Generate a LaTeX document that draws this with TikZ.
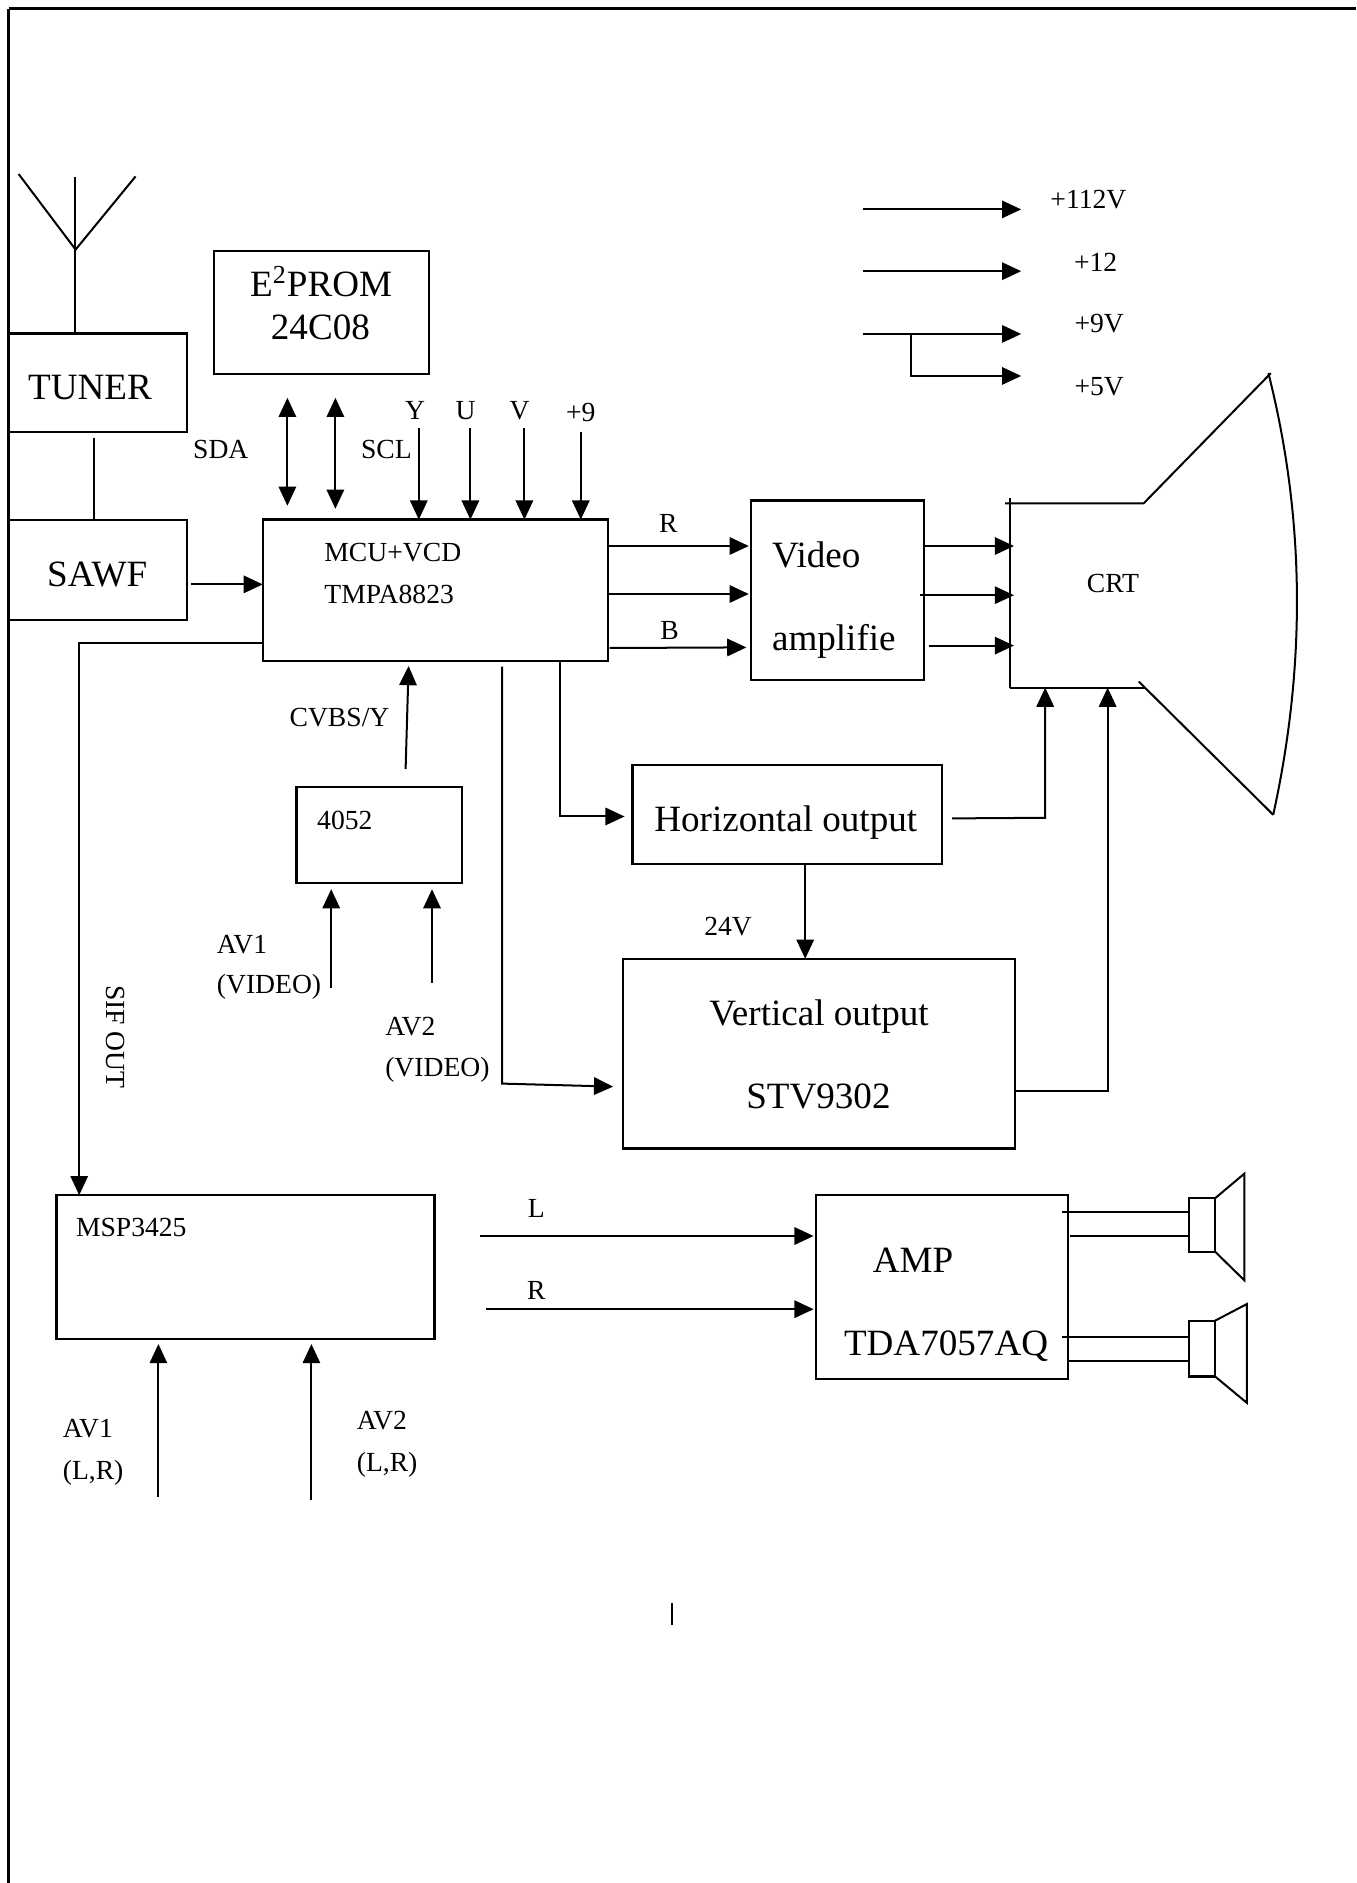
\documentclass[tikz,border=0pt]{standalone}
\usepackage{fontspec}
\setmainfont{Liberation Serif}
\usetikzlibrary{arrows.meta}
\newcommand{\mybox}[5]{\node[box, minimum width={(#4-#2)*0.02cm}, minimum height={(#5-#3)*0.02cm}] (#1) at ({(#2+#4)/2},{(#3+#5)/2}) {};}
\tikzset{
  box/.style={draw, line width=1.05pt, inner sep=0pt, outer sep=0pt},
  wire/.style={line width=0.95pt},
  arr/.style={wire, -{Triangle[length=0.32cm, width=0.29cm]}},
  darr/.style={wire, {Triangle[length=0.32cm, width=0.29cm]}-{Triangle[length=0.32cm, width=0.29cm]}},
  big/.style={font=\fontsize{17.6}{20}\selectfont, inner sep=0pt, anchor=base},
  bigl/.style={big, anchor=base west},
  small/.style={font=\fontsize{13.1}{15}\selectfont, inner sep=0pt, anchor=base},
  smalll/.style={small, anchor=base west}
}
\begin{document}
\begin{tikzpicture}[x=0.02cm, y=-0.02cm]
\useasboundingbox (0,0) rectangle (1130,1569.17);
% frame
\draw[line width=1.4pt] (7.2,7.2) -- (1130,7.2);
\draw[line width=1.1pt] (7.2,7.2) -- (7.2,1569.17);

% boxes
\mybox{tuner}{7.5}{278}{156}{360}
\mybox{sawf}{7.5}{433.5}{156}{516.5}
\mybox{eprom}{178.5}{209}{357.5}{311.5}
\mybox{mcu}{219}{433}{506.5}{551}
\mybox{bsw}{247}{656}{385}{736}
\mybox{video}{626}{417}{770}{566.5}
\mybox{hout}{527}{637.5}{785}{720}
\mybox{vout}{519}{799}{846}{957}
\mybox{msp}{47}{996}{362}{1116}
\mybox{amp}{680}{996}{890}{1149}
\mybox{spka}{991}{998.6}{1012.5}{1043}
\mybox{spkb}{991}{1100.6}{1012.5}{1147}

% texts
\node[big] (ttuner) at (75,333.3) {TUNER};
\node[big] (tsawf) at (81,489) {SAWF};
\node[big] (tep1) at (267.6,247) {E\textsuperscript{2}PROM};
\node[big] (tep2) at (267,283) {24C08};
\node[small] (tsda) at (184,382) {SDA};
\node[small] (tscl) at (322,382) {SCL};
\node[small] (ty) at (346,350) {Y};
\node[small] (tu) at (388,350) {U};
\node[small] (tv) at (433,350) {V};
\node[small] (tp9) at (484,351) {+9};
\node[smalll] (tmcu1) at (270,468) {MCU+VCD};
\node[smalll] (tmcu2) at (270,502.6) {TMPA8823};
\node[small] (tr) at (557,444) {R};
\node[small] (tb) at (558,533) {B};
\node[bigl] (tvid1) at (643,472.8) {Video};
\node[bigl] (tvid2) at (643,541.7) {amplifie};
\node[small] (tcrt) at (927.5,494) {CRT};
\node[small] (tp112) at (907,173.4) {+112V};
\node[small] (tp12) at (913,226) {+12};
\node[small] (tp9v) at (916,277.5) {+9V};
\node[small] (tp5v) at (916,329.6) {+5V};
\node[smalll] (tcvbs) at (241,605.6) {CVBS/Y};
\node[smalll] (t4052) at (264,691) {4052};
\node[smalll] (tav1) at (180.4,794.4) {AV1};
\node[smalll] (tav1v) at (180.4,827.8) {(VIDEO)};
\node[smalll] (tav2) at (320.7,862.5) {AV2};
\node[smalll] (tav2v) at (320.7,897) {(VIDEO)};
\node[small, anchor=center, rotate=-90] (tsif) at (96.5,864) {SIF OUT};
\node[big] (thout) at (654.8,693) {Horizontal output};
\node[small] (t24v) at (606.7,779.7) {24V};
\node[big] (tvout1) at (682.5,854.6) {Vertical output};
\node[big] (tvout2) at (682,923.8) {STV9302};
\node[smalll] (tmsp) at (63,1030.3) {MSP3425};
\node[small] (tl) at (447,1014.8) {L};
\node[small] (tr2) at (447,1083) {R};
\node[bigl] (tamp1) at (727,1060.3) {AMP};
\node[bigl] (tamp2) at (703,1129.7) {TDA7057AQ};
\node[smalll] (tav1a) at (52,1197.8) {AV1};
\node[smalll] (tav1b) at (52,1232.5) {(L,R)};
\node[smalll] (tav2a) at (297,1191) {AV2};
\node[smalll] (tav2b) at (297,1226) {(L,R)};

% helper coordinates
\coordinate (antl) at (15.5,145);
\coordinate (anta) at (63,208);
\coordinate (antr) at (113,147);
\coordinate (antt) at (62.5,147.5);
\coordinate (sifc) at (66,536);
\coordinate (sifm) at (66,996);
\coordinate (sifs) at (219,536);
\coordinate (sawfo) at (159,487);
\coordinate (mcuin) at (219,487);

% antenna
\draw[wire] (antl) -- (anta) -- (antr);
\draw[wire] (antt) -- (antt |- tuner.north);
\draw[wire] (78,365) -- (78,433.5);

% main signal connectors
\draw[arr] (sawfo) -- (mcuin);
\draw[darr] (239.5,331.5) -- (239.5,421.5);
\draw[darr] (279.5,331.5) -- (279.5,424);
\draw[arr] (349,357) -- (349,433);
\draw[arr] (392,357) -- (392,433);
\draw[arr] (437,357) -- (437,433);
\draw[arr] (484,360) -- (484,433);
\draw[arr] (506.5,455) -- (624,455);
\draw[arr] (507.5,495) -- (624,495);
\draw[arr] (508,540) -- (622,539.5);
\draw[arr] (770.5,455) -- (845,455);
\draw[arr] (767,496) -- (845,496);
\draw[arr] (774,538) -- (845,538);
\draw[arr] (sifs) -- (sifc) -- (sifm);
\draw[arr] (338,641) -- (340.5,555);
\draw[arr] (276,823) -- (276,741);
\draw[arr] (360,819) -- (360,741);
\draw[arr] (418.5,555.5) -- (418.5,903) -- (511,905.5);
\draw[arr] (466.7,551) -- (466.7,680.4) -- (520.5,680.4);
\draw[arr] (671,720) -- (671,799);
\draw[arr] (793.5,682) -- (871,681.5) -- (871,573);
\draw[arr] (846,909.5) -- (923,909.5) -- (923,573);

% power
\draw[arr] (719,174.5) -- (851,174.5);
\draw[arr] (719,226) -- (851,226);
\draw[arr] (719,278.3) -- (851,278.3);
\draw[arr] (759,278.3) -- (759,313.3) -- (851,313.3);

% CRT
\coordinate (crtbl) at (842,573);
\coordinate (crttl) at (842,415);
\draw[wire] (crtbl) -- (crttl);
\draw[wire] (837.5,419.5) -- (953,419.5) -- (1059,311);
\draw[wire] (1057,311) .. controls (1088,434) and (1088,556) .. (1061,679);
\draw[wire] (crtbl) -- (955,573);
\draw[wire] (949,568) -- (1061,679);

% audio
\draw[arr] (400,1030) -- (678,1030);
\draw[arr] (405,1091) -- (678,1091);
\draw[arr] (132,1247.5) -- (132,1120);
\draw[arr] (259.5,1249.6) -- (259.5,1120);
\draw[wire] (885,1010) -- (991,1010);
\draw[wire] (892,1030) -- (991,1030);
\draw[wire] (885,1114) -- (991,1114);
\draw[wire] (890,1134) -- (991,1134);
\draw[wire] (spka.north east) -- (1037,978) -- (1037,1067) -- (spka.south east);
\draw[wire] (spkb.north east) -- (1039,1086.7) -- (1039,1169) -- (spkb.south east);

% small mark
\draw[wire] (559.7,1336) -- (559.7,1354);
\end{tikzpicture}
\end{document}
